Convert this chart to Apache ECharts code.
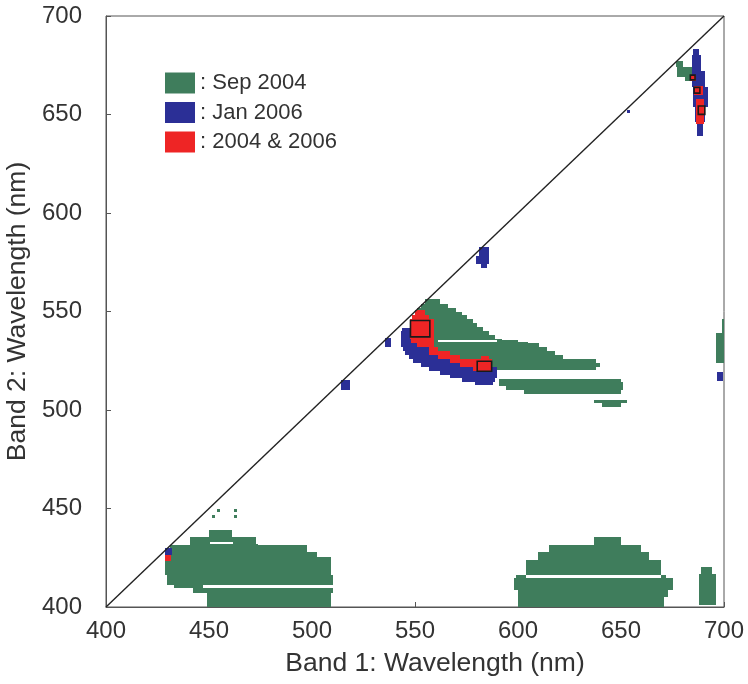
<!DOCTYPE html>
<html>
<head>
<meta charset="utf-8">
<script src="https://cdn.jsdelivr.net/npm/echarts@6/dist/echarts.min.js"></script>
<style>
  html, body { margin: 0; padding: 0; background: #fff; }
  #chart { width: 748px; height: 684px; }
</style>
</head>
<body>
<div id="chart"></div>
<script>
// Each region row: [yLow, yHigh, xLeft, xRight] in nm (band 2, band 2, band 1, band 1)
const seriesNames = ['Sep 2004', 'Jan 2006', '2004 & 2006'];
const axisTicks = [400, 450, 500, 550, 600, 650, 700];

// ---- Sep 2004 (green) ----
const greenLowerLeft = [
  [435.6, 439.2, 450, 461],
  [433, 435.6, 441, 473],
  [432, 433, 441, 450.6], [432, 433, 461.7, 473],
  [431.5, 432, 441, 474],
  [428, 431.5, 431, 497.7],
  [425.4, 428, 429.7, 502.6],
  [416.3, 425.4, 428.7, 509],
  [411.4, 416.3, 429.5, 510],
  [409.6, 411.4, 433, 447],
  [407, 409.6, 442, 510],
  [400, 407, 449, 509],
  [448.3, 449.8, 453.8, 455.3], [448.3, 449.8, 462, 463.5],
  [445, 446.5, 451.3, 452.8], [445, 446.5, 462, 463.5]
];
const greenLowerRight = [
  [431.5, 435.6, 637, 650],
  [428, 431.5, 615, 659.6],
  [424, 428, 609.5, 663.5],
  [416.4, 424, 603.7, 669.3],
  [414.7, 416.4, 599, 603.7], [414.7, 416.4, 669.3, 672],
  [408.6, 414.7, 598, 675.2],
  [405, 408.6, 600, 673],
  [400, 405, 600, 671],
  [417, 420.3, 689, 694],
  [401, 417, 688, 696]
];
const greenMiddle = [
  [554, 556.5, 555, 562],
  [552, 554, 553, 566],
  [550, 552, 551, 570],
  [548, 550, 550, 573],
  [546, 548, 550, 575],
  [544, 546, 550, 578],
  [542, 544, 550, 580],
  [540, 542, 550, 583],
  [538, 540, 550, 586],
  [536, 538, 550, 589],
  [535.6, 536, 550, 592],
  [534.4, 535.6, 550, 561], [534.4, 535.6, 590, 600],
  [534, 534.4, 550, 605],
  [532, 534, 554, 610],
  [530, 532, 556, 614],
  [528, 530, 558, 618],
  [526, 528, 560, 622],
  [524, 526, 563, 638],
  [522, 524, 568, 640],
  [520.5, 522, 574, 638],
  [514, 515.5, 591, 650],
  [512, 514, 591, 651],
  [510, 512, 594, 651],
  [508, 510, 603, 650],
  [503.5, 505.2, 637, 653],
  [501.5, 503.5, 641, 650]
];
const greenUpperRight = [
  [674, 677.2, 676.6, 680],
  [669, 674, 677, 685],
  [667, 669, 681, 686],
  [661, 667, 685, 687.5]
];
const greenRightEdge = [
  [539, 546, 699, 700],
  [524, 539, 696.3, 700]
];

// ---- Jan 2006 (blue) ----
const blueMiddle = [
  [540, 541.8, 543.5, 549],
  [538, 540, 543, 549],
  [536, 538, 543, 549],
  [534, 536, 543, 550],
  [532, 534, 543, 553],
  [530, 532, 544, 557],
  [528, 530, 545, 557],
  [526, 528, 547, 562],
  [524, 526, 549, 567],
  [522, 524, 553, 573],
  [520, 522, 557, 590],
  [518, 520, 562, 590],
  [516, 518, 567, 590],
  [514, 516, 573, 589],
  [512.5, 514, 579, 588]
];
const blueUpperRight = [
  [680, 683.2, 684.8, 688],
  [672, 680, 684.5, 689],
  [664, 672, 684.5, 691],
  [654, 664, 685, 692],
  [646, 654, 686, 691],
  [639, 646, 686.8, 690]
];
const blueSmall = [
  [578, 582.5, 581, 585.7],
  [574, 578, 579.5, 586],
  [572.3, 574, 582, 585],
  [510.3, 515.4, 514, 518.5],
  [532.2, 536.8, 535.6, 538.4],
  [651, 652.5, 653, 654.5],
  [426.4, 430, 428.7, 432],
  [514.5, 519.5, 696.5, 699.5]
];

// ---- 2004 & 2006 (red) ----
const redMiddle = [
  [548, 551, 550, 555],
  [546, 548, 548.5, 557],
  [536, 546, 547.5, 559],
  [534, 536, 548, 559],
  [532, 534, 551, 559],
  [530, 532, 557, 561],
  [528, 530, 557, 567],
  [526, 528, 561, 572],
  [526, 527.3, 582, 586],
  [524, 526, 567, 587.5],
  [522, 524, 572, 587.5],
  [520, 522, 578, 587.5],
  [519.5, 520, 580, 587]
];
const redUpperRight = [
  [667, 670, 683.6, 686.5],
  [660, 664.5, 685.4, 689.8],
  [645, 658, 686.4, 690.3]
];
const redSmall = [
  [423.5, 426.4, 428.7, 431.5]
];

// ---- marked boxes: [centerX, centerY, width, height] ----
const boxes = [
  [552.5, 541.25, 9.4, 8.3],
  [583.7, 522.2, 7, 5.1],
  [684.8, 668.8, 2.3, 2.4],
  [686.9, 662.3, 2.8, 2.9],
  [689.1, 652.2, 3.2, 4.3]
];

const diagonal = [[400, 400], [700, 700]];

const greenRows = [].concat(greenLowerLeft, greenLowerRight, greenMiddle, greenUpperRight, greenRightEdge);
const blueRows = [].concat(blueMiddle, blueUpperRight, blueSmall);
const redRows = [].concat(redMiddle, redUpperRight, redSmall);

const FONT = 'Liberation Sans, Arial, Helvetica, sans-serif';

function rowItem(params, api) {
  const a = api.coord([api.value(2), api.value(1)]);
  const b = api.coord([api.value(3), api.value(0)]);
  const x0 = Math.round(a[0]), x1 = Math.max(x0 + 1, Math.round(b[0]));
  const y0 = Math.round(a[1]), y1 = Math.max(y0 + 1, Math.round(b[1]));
  return {
    type: 'rect',
    shape: { x: x0, y: y0, width: x1 - x0, height: y1 - y0 },
    style: { fill: api.visual('color') }
  };
}
function boxItem(params, api) {
  const cx = api.value(0), cy = api.value(1), w = api.value(2), h = api.value(3);
  const a = api.coord([cx - w / 2, cy + h / 2]);
  const b = api.coord([cx + w / 2, cy - h / 2]);
  return {
    type: 'rect',
    shape: { x: a[0], y: a[1], width: b[0] - a[0], height: b[1] - a[1] },
    style: { fill: 'none', stroke: '#1a1a1a', lineWidth: 1.6 }
  };
}

const colors = ['#3f7d5c', '#2b2f96', '#ee2525'];

const chart = echarts.init(document.getElementById('chart'), null, { renderer: 'canvas' });
chart.setOption({
  animation: false,
  backgroundColor: '#ffffff',
  grid: { left: 106, right: 24, top: 16, bottom: 77, show: true, borderColor: '#555', borderWidth: 1,
          backgroundColor: 'transparent', containLabel: false, outerBoundsMode: 'none' },
  legend: {
    data: seriesNames,
    orient: 'vertical',
    left: 165,
    top: 72,
    padding: 0,
    itemWidth: 30,
    itemHeight: 21,
    itemGap: 7.5,
    icon: 'rect',
    formatter: n => ': ' + n,
    textStyle: { fontSize: 22, color: '#333', fontFamily: FONT }
  },
  xAxis: {
    type: 'value', min: axisTicks[0], max: axisTicks[axisTicks.length - 1], interval: 50,
    name: 'Band 1: Wavelength (nm)', nameLocation: 'middle', nameGap: 43,
    nameTextStyle: { fontSize: 26.5, color: '#333', fontFamily: FONT, padding: [0, 0, 0, 40] },
    axisLine: { lineStyle: { color: '#555', width: 1 } },
    axisTick: { inside: true, length: 5, lineStyle: { color: '#555' } },
    axisLabel: { fontSize: 24, color: '#333', fontFamily: FONT, margin: 12 },
    splitLine: { show: false }
  },
  yAxis: {
    type: 'value', min: axisTicks[0], max: axisTicks[axisTicks.length - 1], interval: 50,
    name: 'Band 2: Wavelength (nm)', nameLocation: 'middle', nameGap: 74,
    nameTextStyle: { fontSize: 26.5, color: '#333', fontFamily: FONT },
    axisLine: { lineStyle: { color: '#555', width: 1 } },
    axisTick: { inside: true, length: 5, lineStyle: { color: '#555' } },
    axisLabel: { fontSize: 24, color: '#333', fontFamily: FONT, margin: 24 },
    splitLine: { show: false }
  },
  series: [
    { name: seriesNames[0], type: 'custom', renderItem: rowItem, data: greenRows,
      encode: { x: [2, 3], y: [0, 1] }, itemStyle: { color: colors[0] }, z: 2 },
    { name: seriesNames[1], type: 'custom', renderItem: rowItem, data: blueRows,
      encode: { x: [2, 3], y: [0, 1] }, itemStyle: { color: colors[1] }, z: 3 },
    { name: seriesNames[2], type: 'custom', renderItem: rowItem, data: redRows,
      encode: { x: [2, 3], y: [0, 1] }, itemStyle: { color: colors[2] }, z: 4 },
    { name: 'boxes', type: 'custom', renderItem: boxItem, data: boxes,
      encode: { x: 0, y: 1 }, z: 5 },
    { name: 'diagonal', type: 'line', data: diagonal, symbol: 'none', silent: true,
      lineStyle: { color: '#222', width: 1.4 }, z: 6 }
  ]
});
</script>
</body>
</html>
